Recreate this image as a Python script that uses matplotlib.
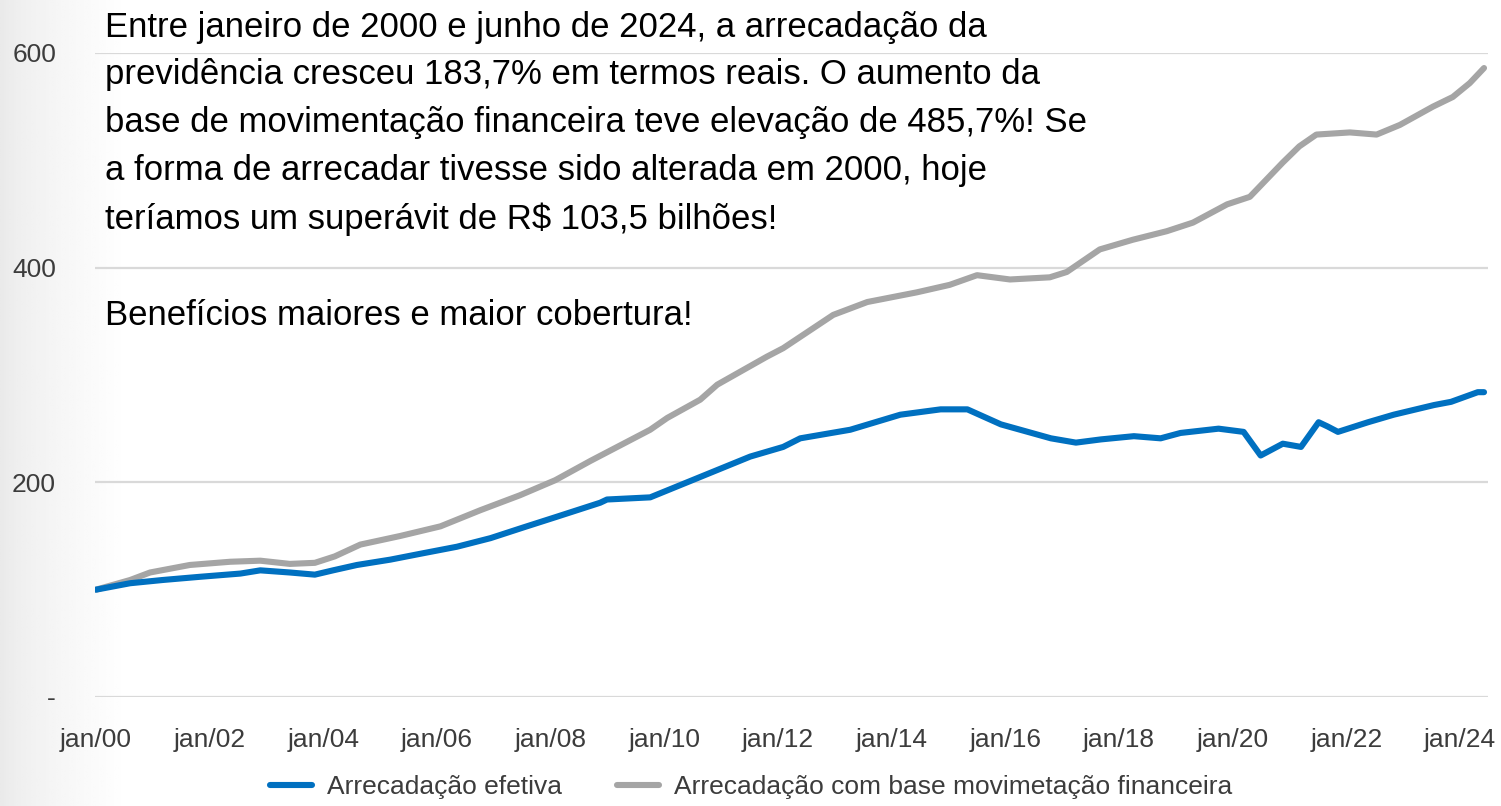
import numpy as np
import matplotlib
matplotlib.use("Agg")
import matplotlib.pyplot as plt
from matplotlib.lines import Line2D

# ---- data (decimal years since jan/2000, index jan/2000 = 100) ----
efetiva_t = [0.0, 0.6, 1.17, 1.83, 2.54, 2.89, 3.41, 3.85, 4.17, 4.59, 5.18, 5.76,
             6.35, 6.94, 7.52, 8.11, 8.87, 8.99, 9.75, 10.63, 11.51, 12.09, 12.39,
             13.27, 14.15, 14.86, 15.33, 15.92, 16.8, 17.24, 17.68, 18.26, 18.73,
             19.08, 19.75, 20.19, 20.49, 20.88, 21.2, 21.51, 21.67, 21.85, 22.38,
             22.83, 23.54, 23.84, 24.31, 24.42]
efetiva_v = [100, 106, 109, 112, 115, 118, 116, 114, 118, 123, 128, 134,
             140, 148, 158, 168, 181, 184, 186, 205, 224, 233, 241,
             249, 263, 268, 268, 254, 241, 237, 240, 243, 241,
             246, 250, 247, 225, 236, 233, 256, 252, 247, 256,
             263, 272, 275, 284, 284]

mov_t = [0.0, 0.6, 0.95, 1.65, 2.36, 2.89, 3.41, 3.85, 4.2, 4.65, 5.35, 6.06,
         6.76, 7.46, 8.08, 8.7, 9.75, 10.05, 10.63, 10.93, 11.8, 12.09, 12.97,
         13.57, 14.44, 15.02, 15.5, 16.08, 16.78, 17.08, 17.66, 18.24, 18.84,
         19.3, 19.9, 20.3, 20.88, 21.17, 21.47, 22.06, 22.53, 22.94, 23.52,
         23.87, 24.17, 24.42]
mov_v = [100, 109, 116, 123, 126, 127, 124, 125, 131, 142, 150, 159,
         174, 188, 202, 220, 249, 260, 277, 291, 317, 325, 356,
         368, 377, 384, 393, 389, 391, 396, 417, 426, 434,
         442, 459, 466, 498, 513, 524, 526, 524, 533, 550,
         559, 572, 586]

xtick_pos = [0, 2, 4, 6, 8, 10, 12, 14, 16, 18, 20, 22, 24]
xtick_labels = ["jan/00", "jan/02", "jan/04", "jan/06", "jan/08", "jan/10", "jan/12",
                "jan/14", "jan/16", "jan/18", "jan/20", "jan/22", "jan/24"]
ytick_pos = [0, 200, 400, 600]
ytick_labels = ["-", "200", "400", "600"]

series_names = ["Arrecadação efetiva", "Arrecadação com base movimetação financeira"]

text_lines = [
    "Entre janeiro de 2000 e junho de 2024, a arrecadação da",
    "previdência cresceu 183,7% em termos reais. O aumento da",
    "base de movimentação financeira teve elevação de 485,7%! Se",
    "a forma de arrecadar tivesse sido alterada em 2000, hoje",
    "teríamos um superávit de R$ 103,5 bilhões!",
]
text_extra = "Benefícios maiores e maior cobertura!"

# ---- style ----
plt.rcParams["font.family"] = ["Liberation Sans", "DejaVu Sans"]
BLUE = "#0070C0"
GRAY = "#A5A5A5"
W, H = 1501, 806

fig = plt.figure(figsize=(W / 100, H / 100), dpi=100)

# subtle slide background shading on the left
bg = fig.add_axes([0, 0, 1, 1], zorder=-10)
gx = np.linspace(0, 1, 600)
shade = np.clip(gx / 0.085, 0, 1) ** 0.7
col = 0.915 + 0.085 * shade
img = np.tile(col, (10, 1))
bg.imshow(img, cmap="gray", vmin=0, vmax=1, aspect="auto", extent=[0, 1, 0, 1])
bg.set_axis_off()

x0, x1 = 95, 1488
y0, y1 = 697, 53
ax = fig.add_axes([x0 / W, (H - y0) / H, (x1 - x0) / W, (y0 - y1) / H])
ax.patch.set_alpha(0)

ax.plot(efetiva_t, efetiva_v, color=BLUE, lw=4.4, solid_capstyle="round",
        solid_joinstyle="round", zorder=3)
ax.plot(mov_t, mov_v, color=GRAY, lw=4.4, solid_capstyle="round",
        solid_joinstyle="round", zorder=2)

ax.set_xlim(-0.018, 24.49)
ax.set_ylim(0, 600)
ax.set_xticks(xtick_pos)
ax.set_xticklabels(xtick_labels)
ax.set_yticks(ytick_pos)
ax.set_yticklabels(ytick_labels)
ax.tick_params(axis="both", length=0, labelsize=19, labelcolor="#3c3c3c")
ax.tick_params(axis="x", pad=22)
ax.tick_params(axis="y", pad=28)
for s in ax.spines.values():
    s.set_visible(False)
ax.grid(axis="y", color="#D9D9D9", lw=1.6)
ax.set_axisbelow(True)

handles = [Line2D([], [], color=BLUE, lw=4.4, solid_capstyle="round"),
           Line2D([], [], color=GRAY, lw=4.4, solid_capstyle="round")]
fig.legend(handles, series_names, loc="center", ncol=2,
           bbox_to_anchor=(751 / W, (H - 787) / H), frameon=False,
           fontsize=19, labelcolor="#3c3c3c", handlelength=1.6,
           handletextpad=0.55, columnspacing=2.1, borderaxespad=0)

baselines = [37, 84, 132, 180, 229]
for line, yb in zip(text_lines, baselines):
    fig.text(105 / W, (H - yb) / H, line, fontsize=25, color="black",
             va="baseline", ha="left")
fig.text(105 / W, (H - 325) / H, text_extra, fontsize=25, color="black",
         va="baseline", ha="left")

fig.savefig("out.png", dpi=100)
